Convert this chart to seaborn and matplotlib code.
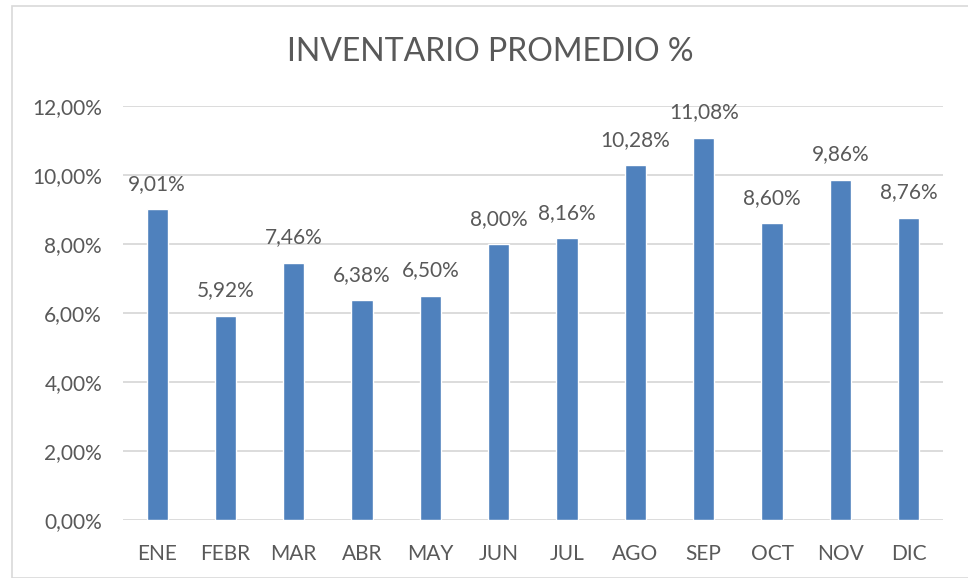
import matplotlib
matplotlib.use("Agg")
import pandas as pd
import seaborn as sns
import matplotlib.pyplot as plt
from matplotlib.ticker import FuncFormatter
from matplotlib.patches import Rectangle

# data
meses = ["ENE", "FEBR", "MAR", "ABR", "MAY", "JUN", "JUL", "AGO", "SEP", "OCT", "NOV", "DIC"]
inventario = [9.01, 5.92, 7.46, 6.38, 6.50, 8.00, 8.16, 10.28, 11.08, 8.60, 9.86, 8.76]
yticks = [0, 2, 4, 6, 8, 10, 12]

df = pd.DataFrame({"mes": meses, "pct": inventario})

sns.set_style("white")
plt.rcParams['font.family'] = ['Lato', 'DejaVu Sans']
gris = "#595959"

fig = plt.figure(figsize=(9.68, 5.78), dpi=100)
ax = fig.add_axes([0.127, 0.1003, 0.847, 0.7163])

sns.barplot(data=df, x="mes", y="pct", color="#4F81BD", saturation=1,
            width=0.31, ax=ax, zorder=3)

ax.set_ylim(0, 12)
ax.set_yticks(yticks)
ax.yaxis.set_major_formatter(FuncFormatter(lambda v, p: f"{v:.2f}%".replace(".", ",")))
ax.grid(axis="y", color="#D9D9D9", linewidth=1.3, zorder=0)
ax.set_axisbelow(True)
for s in ax.spines.values():
    s.set_visible(False)
ax.tick_params(axis="both", length=0, labelsize=15, colors=gris)
ax.tick_params(axis="y", pad=15)
ax.tick_params(axis="x", pad=17)
ax.set_xlabel("")
ax.set_ylabel("")
ax.set_xlim(-0.5, len(meses) - 0.5)

# data labels above each bar
for cont in ax.containers:
    ax.bar_label(cont, labels=[f"{v:.2f}%".replace(".", ",") for v in inventario],
                 padding=11, fontsize=15, color=gris)

fig.text(0.506, 0.91, "INVENTARIO PROMEDIO %", ha="center", va="center",
         fontsize=23, color=gris)

# chart frame like Excel
fig.patches.append(Rectangle((12 / 968, 0.0), 1.0, 1 - 6 / 578, transform=fig.transFigure,
                             fill=False, edgecolor="#D9D9D9", linewidth=1.2))

fig.savefig("out.png", dpi=100)
